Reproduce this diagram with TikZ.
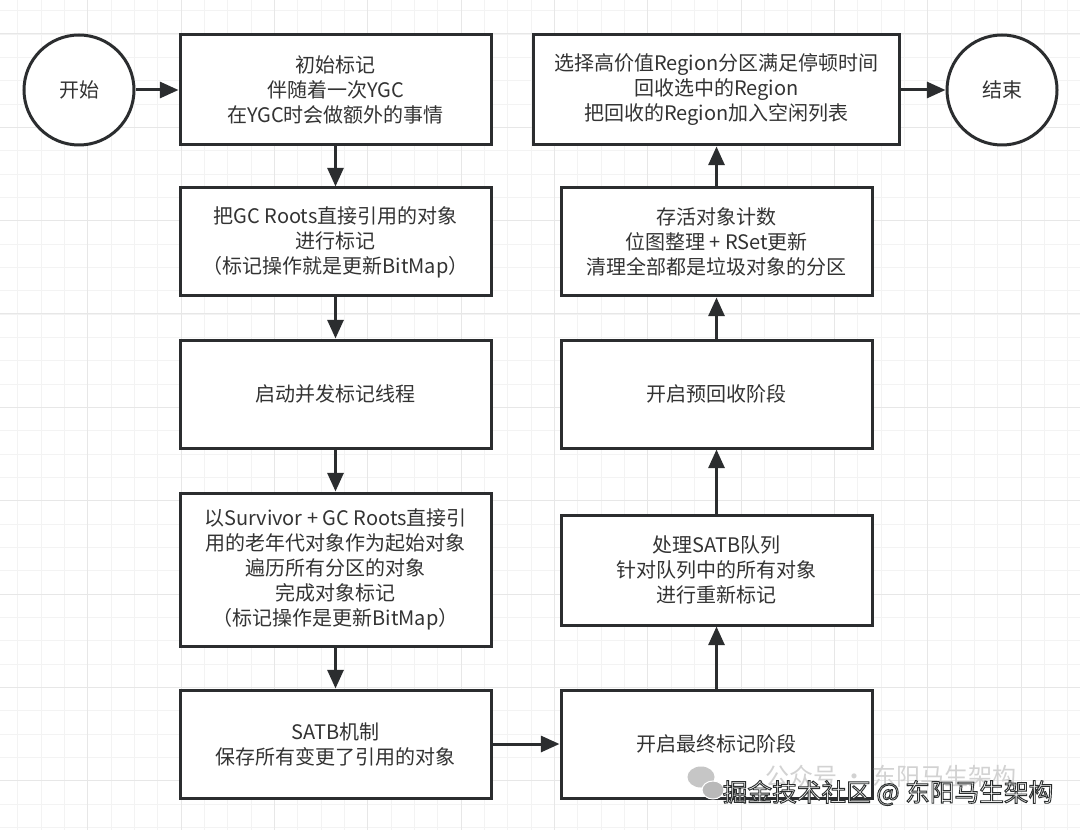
\documentclass[tikz,border=0pt]{standalone}
\usepackage{fontspec}
\usepackage{tikz}
\usetikzlibrary{arrows.meta}
\newfontfamily\cjk{Noto Sans CJK SC}
\definecolor{inkgray}{HTML}{2B2D2F}
\definecolor{textgray}{HTML}{333333}
\definecolor{gridminor}{HTML}{F3F3F3}
\definecolor{gridmajor}{HTML}{E7E7E7}
\newcommand{\outlined}[1]{\special{pdf:literal direct 2 Tr 0.7 w 0.17 0.18 0.18 RG}#1\special{pdf:literal direct 0 Tr}}

\begin{document}
\begin{tikzpicture}[x=0.75pt, y=-0.75pt, font=\cjk\fontsize{15pt}{18.75pt}\selectfont, text=textgray,
    stage/.style={draw=inkgray, line width=2.25pt, fill=white, rectangle, align=center, minimum width=233.25pt, minimum height=81pt, inner sep=0pt},
    terminal/.style={draw=inkgray, line width=2.25pt, fill=white, circle, minimum size=82.5pt, inner sep=0pt},
    flow/.style={draw=inkgray, line width=2.25pt, -{Triangle[length=14pt, width=12pt]}}]
	\useasboundingbox[fill=white] (0,0) rectangle (1080,830);
      % background grid
      \foreach \gx in {0,...,45} \draw[gridminor, line width=0.75pt] (17.7+\gx*23.333,0) -- (17.7+\gx*23.333,830);
      \foreach \gy in {0,...,35} \draw[gridminor, line width=0.75pt] (0,10.7+\gy*23.333) -- (1080,10.7+\gy*23.333);
      \foreach \gx in {0,...,10} \draw[gridmajor, line width=0.75pt] (87.7+\gx*93.333,0) -- (87.7+\gx*93.333,830);
      \foreach \gy in {0,...,8} \draw[gridmajor, line width=0.75pt] (0,34+\gy*93.333) -- (1080,34+\gy*93.333);
      % left column
      \node (start) at (79,90) [terminal] {开始};
      \node (initmark) at (335.5,90) [stage, minimum height=82.5pt] {初始标记\\伴随着一次YGC\\在YGC时会做额外的事情};
      \node (rootmark) at (335.5,242) [stage] {把GC Roots直接引用的对象\\进行标记\\（标记操作就是更新BitMap）};
      \node (concmark) at (335.5,394) [stage] {启动并发标记线程};
      \node (traverse) at (335.5,569.5) [stage, minimum height=114.75pt] {以Survivor + GC Roots直接引\\用的老年代对象作为起始对象\\遍历所有分区的对象\\完成对象标记\\（标记操作是更新BitMap）};
      \node (satb) at (335.5,744) [stage] {SATB机制\\保存所有变更了引用的对象};
      % right column
      \node (finalmark) at (716.5,744) [stage] {开启最终标记阶段};
      \node (satbqueue) at (716.5,570) [stage, minimum height=82.5pt] {处理SATB队列\\针对队列中的所有对象\\进行重新标记};
      \node (precollect) at (716.5,394) [stage] {开启预回收阶段};
      \node (livecount) at (716.5,242) [stage] {存活对象计数\\位图整理 + RSet更新\\清理全部都是垃圾对象的分区};
      \node (evacuate) at (716.5,90) [stage, minimum width=274.5pt, minimum height=82.5pt] {选择高价值Region分区满足停顿时间\\回收选中的Region\\把回收的Region加入空闲列表};
      \node (finish) at (1002,90) [terminal] {结束};
      % connectors
      \draw[flow] (start) -- (initmark);
      \draw[flow] (initmark) -- (rootmark);
      \draw[flow] (rootmark) -- (concmark);
      \draw[flow] (concmark) -- (traverse);
      \draw[flow] (traverse) -- (satb);
      \draw[flow] (satb) -- (finalmark);
      \draw[flow] (finalmark) -- (satbqueue);
      \draw[flow] (satbqueue) -- (precollect);
      \draw[flow] (precollect) -- (livecount);
      \draw[flow] (livecount) -- (evacuate);
      \draw[flow] (evacuate) -- (finish);
      % watermark
      \fill[gray!45] (701,777) ellipse (13.5 and 10.5);
      \fill[gray!55, draw=white, line width=0.75pt] (713,790) ellipse (11 and 9);
      \node (wmback) at (891,776) [font=\cjk\fontsize{18pt}{20pt}\selectfont, text=gray!35] {公众号 · 东阳马生架构};
      \node (wmfront) at (888,793) [font=\cjk\fontsize{18.5pt}{20pt}\selectfont, text=white] {\outlined{掘金技术社区 @ 东阳马生架构}};
    \end{tikzpicture}
\end{document}
